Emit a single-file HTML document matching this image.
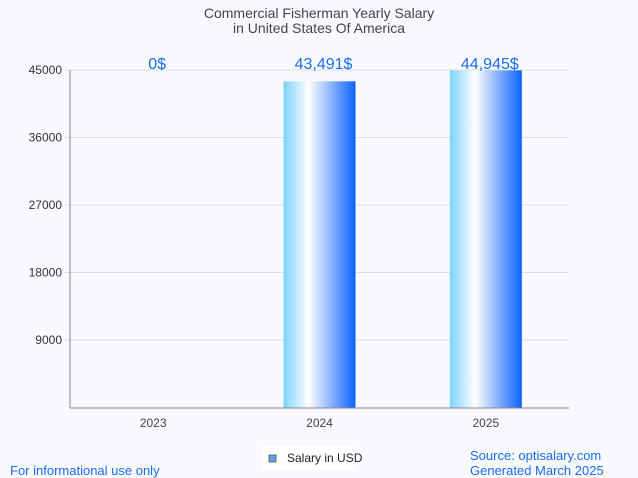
<!DOCTYPE html>
<html><head><meta charset="utf-8"><style>
body{margin:0;background:#f9fafd;font-family:"Liberation Sans",sans-serif}
svg{display:block}
</style></head><body>
<svg width="638" height="478" xmlns="http://www.w3.org/2000/svg">
<defs><linearGradient id="g" x1="0" x2="1" y1="0" y2="0">
<stop offset="0" stop-color="#7dd3ff"/><stop offset="0.35" stop-color="#ffffff"/><stop offset="1" stop-color="#0b62ff"/>
</linearGradient></defs>
<rect width="638" height="478" fill="#f9fafd"/>
<text x="319" y="18" text-anchor="middle" font-size="14" fill="#444">Commercial Fisherman Yearly Salary</text>
<text x="319" y="33" text-anchor="middle" font-size="14" fill="#444">in United States Of America</text>
<g id="grid"></g><g id="bars"></g>
<text x="10" y="475" font-size="13" fill="#1a6cf5">For informational use only</text>
<text x="470" y="460" font-size="13" fill="#1a6cf5">Source: optisalary.com</text>
<text x="470" y="475" font-size="13" fill="#1a6cf5">Generated March 2025</text>
<g>
<rect x="262" y="446" width="93" height="24" fill="#fff"/>
<rect x="269" y="455" width="7" height="7" fill="#5fa5ec" stroke="#555" stroke-width="0.8"/>
<text x="287" y="462" font-size="12" fill="#222">Salary in USD</text>
</g>
</svg>
<script>
const categories=["2023","2024","2025"];
const values=[0,43491,44945];
const labels=["0$","43,491$","44,945$"];
const ticks=[9000,18000,27000,36000,45000];
const NS="http://www.w3.org/2000/svg";
const x0=70,x1=569,yb=407.5,yt=70,ymax=45000;
const y=v=>yb-(v/ymax)*(yb-yt);
const bw=(x1-x0)/categories.length;
const xc=i=>x0+bw*(i+0.5);
function mk(t,a,p){const e=document.createElementNS(NS,t);for(const k in a)e.setAttribute(k,a[k]);p.appendChild(e);return e;}
const grid=document.getElementById('grid'),bars=document.getElementById('bars');
ticks.forEach(t=>{
 const l=mk('line',{x1:x0-5,x2:x1,y1:y(t),y2:y(t),stroke:'#ddd'},grid);
 
 
 const tx=mk('text',{x:x0-8,y:y(t)+4,'text-anchor':'end','font-size':12,fill:'#333'},grid);
 tx.textContent=t;
 
 
});
mk('line',{x1:x0,x2:x0,y1:yt,y2:yb+0.5,stroke:'#888'},grid);
mk('line',{x1:x0,x2:x1,y1:yb+0.5,y2:yb+0.5,stroke:'#888'},grid);
categories.forEach((c,i)=>{
 const h=yb-y(values[i]);
 const r=mk('rect',{x:xc(i)-36,y:y(values[i]),width:72,height:h,fill:'url(#g)'},bars);
 
 
 const v=mk('text',{x:xc(i)+4,y:Math.min(y(values[i]),y(ymax))-1,'text-anchor':'middle','font-size':16,fill:'#1a6cf5'},bars);
 v.textContent=labels[i];
 
 
 const t=mk('text',{x:xc(i),y:427,'text-anchor':'middle','font-size':12,fill:'#444'},bars);
 t.textContent=c;
 
 
});
</script>
</body></html>
